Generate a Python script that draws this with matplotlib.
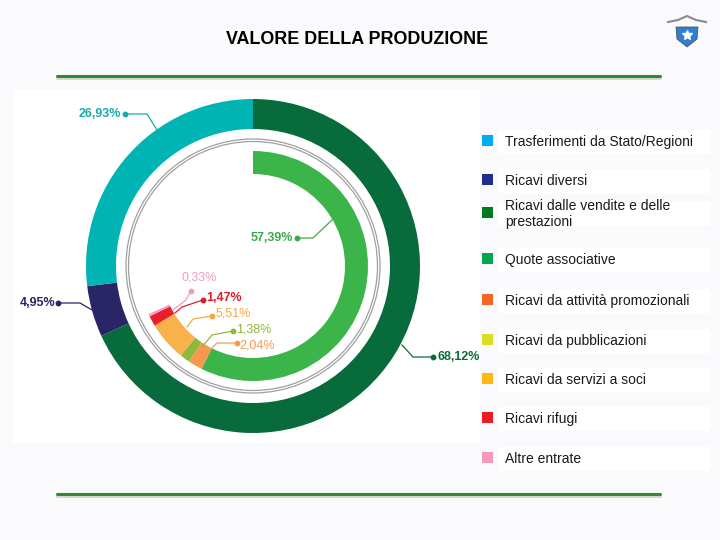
import numpy as np
import matplotlib
matplotlib.use('Agg')
import matplotlib.pyplot as plt
from matplotlib.patches import Rectangle, Circle, Polygon

# ========================== data ==========================
outer_labels = ['Ricavi dalle vendite e delle prestazioni', 'Ricavi diversi', 'Trasferimenti da Stato/Regioni']
outer_values = [68.12, 4.95, 26.93]
outer_colors = ['#076B3B', '#2A2566', '#00B4B4']

inner_labels = ['Quote associative', 'Ricavi da attività promozionali', 'Ricavi da pubblicazioni',
                'Ricavi da servizi a soci', 'Ricavi rifugi', 'Altre entrate']
inner_values = [57.39, 2.04, 1.38, 5.51, 1.47, 0.33]
inner_colors = ['#3BB54A', '#F6994F', '#8DB93B', '#F9B14B', '#E8202A', '#F39BC2']

legend_labels = ['Trasferimenti da Stato/Regioni', 'Ricavi diversi',
                 'Ricavi dalle vendite e delle\nprestazioni', 'Quote associative',
                 'Ricavi da attività promozionali', 'Ricavi da pubblicazioni',
                 'Ricavi da servizi a soci', 'Ricavi rifugi', 'Altre entrate']
legend_colors = ['#00AEEF', '#1F2E8C', '#007A20', '#00A650', '#F26522',
                 '#D8DF22', '#FDB813', '#EC1C24', '#F49AC1']

# ========================== figure ==========================
W, H = 720, 540
fig = plt.figure(figsize=(7.2, 5.4), dpi=100)
fig.patch.set_facecolor('#FAFAFC')


def pixel_axes(z):
    # full-figure axes in pixel coords (y downwards)
    a = fig.add_axes([0, 0, 1, 1])
    a.set_xlim(0, W)
    a.set_ylim(H, 0)
    a.axis('off')
    a.set_zorder(z)
    a.patch.set_alpha(0)
    return a


bg = pixel_axes(0)

# white chart panel
bg.add_patch(Rectangle((13, 90), 467, 353, facecolor='white', edgecolor='none', zorder=0))

# legend row boxes
leg_y = [142, 181, 214, 260, 301, 341, 380, 419, 459]
for y in leg_y:
    bg.add_patch(Rectangle((499, y - 12), 212, 24, facecolor='white', edgecolor='none', zorder=0))

# title + green rules
bg.text(357, 40, 'VALORE DELLA PRODUZIONE', ha='center', va='center', fontsize=12.9,
        fontweight='bold', family=['Liberation Sans', 'DejaVu Sans'], color='black')
for yl in [76, 494]:
    bg.plot([57, 660], [yl + 2, yl + 2], color='#D8D8D0', lw=2.2, solid_capstyle='round', zorder=1)
    bg.plot([57, 660], [yl, yl], color='#2E8B2E', lw=2.2, solid_capstyle='round', zorder=2)

# logo (simple shield with star)
bg.add_patch(Polygon([[676, 27], [698, 27], [697, 39], [687, 47], [677, 39]], closed=True,
                     facecolor='#2F7FD0', edgecolor='#555555', lw=0.6, zorder=3))
bg.plot([668, 678, 687, 696, 706], [22, 20, 16, 20, 22], color='#8A8A8A', lw=1.5, zorder=3)
bg.plot(687, 35, marker='*', color='white', markersize=7, zorder=4)

# legend
for y, lab, c in zip(leg_y, legend_labels, legend_colors):
    bg.add_patch(Rectangle((482, y - 7), 11, 11, facecolor=c, edgecolor='none', zorder=3))
    bg.text(505, y, lab, ha='left', va='center', fontsize=10, color='#1A1A1A',
            family=['Liberation Sans', 'DejaVu Sans'], linespacing=1.2, zorder=3)

# ========================== donut ==========================
cx, cy, R = 253, 266, 167
ax = fig.add_axes([(cx - R) / W, (H - cy - R) / H, 2 * R / W, 2 * R / H])
ax.set_zorder(1)
ax.patch.set_alpha(0)

ax.pie(outer_values, colors=outer_colors, radius=1.0, startangle=90, counterclock=False,
       wedgeprops=dict(width=30 / R, edgecolor='none'))
ax.pie(np.array(inner_values) / 100.0, colors=inner_colors, radius=115 / R, startangle=90,
       counterclock=False, normalize=False, wedgeprops=dict(width=23 / R, edgecolor='none'))
for rr in [127 / R, 124.5 / R]:
    ax.add_patch(Circle((0, 0), rr, fill=False, edgecolor='#A0A0A0', lw=0.9))
ax.set_xlim(-1, 1)
ax.set_ylim(-1, 1)
ax.set_aspect('equal')
ax.axis('off')

# ========================== labels (pixel layout) ==========================
top = pixel_axes(2)
lab_font = ['Liberation Sans Narrow', 'Liberation Sans', 'DejaVu Sans']
callouts = [
    # text, color, bold, line points (ring -> elbow -> dot), text x, text y, align
    ('26,93%', '#1AA9A8', True, [(157, 130), (147, 114), (125, 114)], 121, 114, 'right'),
    ('4,95%', '#2A2566', True, [(92, 310), (80, 303), (58, 303)], 55, 303, 'right'),
    ('68,12%', '#0B6B3E', True, [(402, 345), (413, 357), (433, 357)], 437, 357, 'left'),
    ('57,39%', '#3BAA48', True, [(332, 220), (313, 238), (297, 238)], 293, 238, 'right'),
    ('0,33%', '#F09CC4', False, [(173, 310), (186, 300), (191, 291)], 182, 278, 'left'),
    ('1,47%', '#D8202A', True, [(175, 313), (182, 307), (203, 300)], 206, 298, 'left'),
    ('5,51%', '#F6A744', False, [(187, 327), (193, 319), (212, 316)], 216, 314, 'left'),
    ('1,38%', '#8DB93B', False, [(202, 347), (212, 335), (233, 331)], 236, 330, 'left'),
    ('2,04%', '#F49A50', False, [(208, 352), (217, 343), (237, 343)], 239, 345, 'left'),
]
for txt, col, bold, pts, tx, ty, ha in callouts:
    xs = [p[0] for p in pts]
    ys = [p[1] for p in pts]
    top.plot(xs, ys, color=col, lw=0.9, zorder=5)
    top.plot(xs[-1], ys[-1], marker='o', color=col, markersize=3.2, zorder=5)
    top.text(tx, ty, txt, ha=ha, va='center', fontsize=9, color=col,
             fontweight='bold' if bold else 'normal', family=lab_font, zorder=6)

fig.savefig('out.png', dpi=100, facecolor=fig.get_facecolor())
